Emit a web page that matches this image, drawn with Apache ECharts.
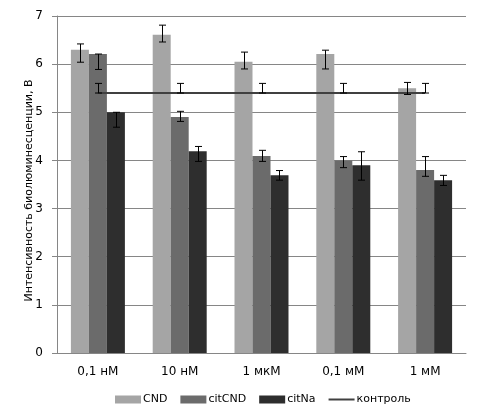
<!DOCTYPE html>
<head>
    <meta charset="utf-8">
    <title>Интенсивность биолюминесценции</title>
    <script src="https://cdn.jsdelivr.net/npm/echarts@6/dist/echarts.min.js"></script>
    <style>body{margin:0;background:#fff}</style>
</head>
<body>
    <div id="main" style="width:482px;height:420px"></div>
    <script type="text/javascript">
        var categories = ['0,1 нМ', '10 нМ', '1 мкМ', '0,1 мМ', '1 мМ'];
        var cnd    = [6.30, 6.61, 6.05, 6.21, 5.50];
        var citCnd = [6.21, 4.90, 4.09, 4.00, 3.80];
        var citNa  = [5.00, 4.19, 3.69, 3.90, 3.59];
        var control = [5.4, 5.4, 5.4, 5.4, 5.4];
        // нижняя и верхняя границы планок погрешностей
        var cndLo    = [6.04, 6.46, 5.90, 5.90, 5.37];
        var cndHi    = [6.42, 6.81, 6.25, 6.29, 5.62];
        var citCndLo = [5.89, 4.81, 3.98, 3.85, 3.67];
        var citCndHi = [6.21, 5.02, 4.21, 4.08, 4.08];
        var citNaLo  = [4.69, 3.98, 3.59, 3.59, 3.48];
        var citNaHi  = [5.00, 4.29, 3.79, 4.18, 3.69];
        var controlLo = [5.4, 5.4, 5.4, 5.4, 5.4];
        var controlHi = [5.6, 5.6, 5.6, 5.6, 5.6];

        var catGap = 0.34;
        var font = 'DejaVu Sans';

        function errSeries(idx, lo, hi) {
            return {
                type: 'custom',
                silent: true,
                z: 10,
                encode: { x: 0, y: [1, 2] },
                data: lo.map(function (v, i) { return [i, v, hi[i]]; }),
                renderItem: function (params, api) {
                    var band = api.size([1, 0])[0];
                    var bw = band * (1 - catGap) / 3;
                    var off = idx === null ? 0 : (idx - 1) * bw;
                    var p1 = api.coord([api.value(0), api.value(1)]);
                    var p2 = api.coord([api.value(0), api.value(2)]);
                    var x = Math.round(p1[0] + off) + 0.5;
                    var h = 3.5;
                    var st = { stroke: '#000', lineWidth: 1 };
                    return {
                        type: 'group',
                        children: [
                            { type: 'line', shape: { x1: x, y1: p1[1], x2: x, y2: p2[1] }, style: st },
                            { type: 'line', shape: { x1: x - h, y1: p1[1], x2: x + h, y2: p1[1] }, style: st },
                            { type: 'line', shape: { x1: x - h, y1: p2[1], x2: x + h, y2: p2[1] }, style: st }
                        ]
                    };
                }
            };
        }

        var myChart = echarts.init(document.getElementById('main'));
        var option = {
            animation: false,
            textStyle: { fontFamily: font },
            grid: { left: 57, right: 16, top: 16, bottom: 67, containLabel: false },
            legend: {
                bottom: 10,
                left: 110,
                itemGap: 13,
                itemWidth: 26,
                itemHeight: 8,
                textStyle: { fontFamily: font, fontSize: 11, color: '#000', padding: [0, 0, 0, -3] },
                data: [
                    { name: 'CND', icon: 'rect' },
                    { name: 'citCND', icon: 'rect' },
                    { name: 'citNa', icon: 'rect' },
                    { name: 'контроль', icon: 'path://M0,0H26V2H0Z' }
                ]
            },
            xAxis: {
                type: 'category',
                data: categories,
                axisLine: { lineStyle: { color: '#868686' } },
                axisTick: { show: false },
                axisLabel: { color: '#000', fontSize: 12, margin: 13, fontFamily: font }
            },
            yAxis: {
                type: 'value',
                min: 0, max: 7, interval: 1,
                name: 'Интенсивность биолюминесценции, В',
                nameLocation: 'middle',
                nameGap: 22,
                nameMoveOverlap: false,
                nameTextStyle: { color: '#000', fontSize: 11, fontFamily: font, padding: [0, 12, 0, 0] },
                axisLine: { show: true, lineStyle: { color: '#868686' } },
                axisTick: { show: true, length: 5, lineStyle: { color: '#868686' } },
                axisLabel: { color: '#000', fontSize: 12, margin: 14, fontFamily: font },
                splitLine: { lineStyle: { color: '#868686' } }
            },
            series: [
                { name: 'CND', type: 'bar', data: cnd, barGap: 0, barCategoryGap: '34%', itemStyle: { color: '#a5a5a5' } },
                { name: 'citCND', type: 'bar', data: citCnd, itemStyle: { color: '#6b6b6b' } },
                { name: 'citNa', type: 'bar', data: citNa, itemStyle: { color: '#2e2e2e' } },
                { name: 'контроль', type: 'line', data: control, symbol: 'none', z: 5,
                  lineStyle: { color: '#404040', width: 2 }, itemStyle: { color: '#404040' } },
                errSeries(0, cndLo, cndHi),
                errSeries(1, citCndLo, citCndHi),
                errSeries(2, citNaLo, citNaHi),
                errSeries(null, controlLo, controlHi)
            ]
        };
        myChart.setOption(option);
    </script>
</body>
